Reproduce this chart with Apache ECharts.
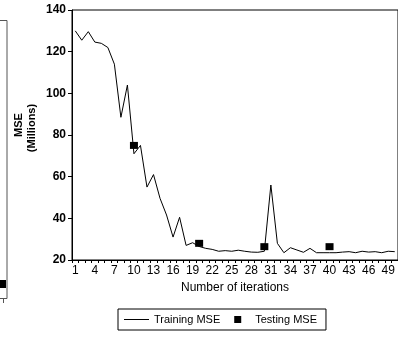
<!DOCTYPE html>
<html>
<head>
<meta charset="utf-8">
<script src="https://cdn.jsdelivr.net/npm/echarts@6/dist/echarts.min.js"></script>
<style>html,body{margin:0;padding:0;background:#fff}#c{width:398px;height:337px}</style>
</head>
<body>
<div id="c"></div>
<script>
var iterations = [];
for (var i = 1; i <= 50; i++) iterations.push(String(i));
var trainingMSE = [130, 125.5, 129.6, 124.6, 124, 122, 114, 88.5, 104, 71,
  75, 55, 61, 49.6, 41.6, 31, 40.5, 27, 28.3, 26.5,
  25.6, 25.1, 24.2, 24.5, 24.2, 24.7, 24.2, 23.8, 23.7, 24.2,
  56, 28, 23.5, 25.9, 24.8, 23.7, 25.6, 23.5, 23.5, 23.5,
  23.5, 23.8, 24, 23.5, 24.2, 23.8, 24, 23.5, 24.2, 24];
var testingIter = ['10', '20', '30', '40'];
var testingMSE = [75, 28, 26.4, 26.4];
var yTicks = [20, 140, 20]; // min, max, interval
var halfTicks = [];
for (var j = 0; j < 100; j++) halfTicks.push(String(j));

var chart = echarts.init(document.getElementById('c'), null, {renderer: 'canvas'});
var font = 'Liberation Sans, Arial, sans-serif';
chart.setOption({
  animation: false,
  grid: {left: 72, top: 10, right: -7, bottom: 77, show: true, borderColor: '#000', borderWidth: 1, containLabel: false},
  xAxis: [{
    type: 'category', data: iterations, boundaryGap: true,
    name: 'Number of iterations', nameLocation: 'middle', nameGap: 22,
    nameTextStyle: {color: '#000', fontSize: 12, fontFamily: font},
    axisLine: {lineStyle: {color: '#000', width: 1}},
    axisTick: {show: true, interval: 0, length: 3, lineStyle: {color: '#000'}},
    axisLabel: {interval: 2, color: '#000', fontSize: 12, fontFamily: font, margin: 5},
    splitLine: {show: false}
  }, {
    type: 'category', data: halfTicks, boundaryGap: true, position: 'bottom',
    axisLine: {show: false},
    axisTick: {show: true, interval: 1, length: 3, lineStyle: {color: '#000'}},
    axisLabel: {show: false},
    splitLine: {show: false}
  }],
  yAxis: {
    type: 'value', min: yTicks[0], max: yTicks[1], interval: yTicks[2],
    axisLine: {show: true, lineStyle: {color: '#000', width: 1}},
    axisTick: {show: true, length: 4, lineStyle: {color: '#000'}},
    axisLabel: {color: '#000', fontSize: 12, fontWeight: 'bold', fontFamily: font, margin: 6},
    splitLine: {show: false}
  },
  legend: {
    left: 118, top: 309,
    data: [
      {name: 'Training MSE', icon: 'path://M0,0L25,0L25,1L0,1Z', symbolKeepAspect: true},
      {name: 'Testing MSE', icon: 'path://M0,0L10,0L10,10L0,10Z', symbolKeepAspect: true,
        itemStyle: {color: '#000', opacity: 1}}
    ],
    symbolKeepAspect: true,
    borderColor: '#000', borderWidth: 1, borderRadius: 0,
    padding: [5, 9, 5, 6], itemGap: 14, itemWidth: 25, itemHeight: 7,
    textStyle: {color: '#000', fontSize: 11, fontFamily: font}
  },
  series: [{
    name: 'Training MSE', type: 'line', data: trainingMSE,
    symbol: 'none', lineStyle: {color: '#000', width: 1}, itemStyle: {color: '#000'}, z: 2
  }, {
    name: 'Testing MSE', type: 'scatter',
    data: testingIter.map(function (c, k) { return [c, testingMSE[k]]; }),
    symbol: 'rect', symbolSize: [8, 7], symbolKeepAspect: true,
    itemStyle: {color: '#000', opacity: 1}, z: 3
  }],
  graphic: [
    {type: 'text', rotation: Math.PI / 2, x: 19, y: 125,
      style: {text: 'MSE', fill: '#000', font: 'bold 11px ' + font, align: 'center', verticalAlign: 'middle'}},
    {type: 'text', rotation: Math.PI / 2, x: 32, y: 128,
      style: {text: '(Millions)', fill: '#000', font: 'bold 11px ' + font, align: 'center', verticalAlign: 'middle'}},
    {type: 'rect', shape: {x: -10, y: 20.5, width: 17, height: 278}, style: {fill: 'none', stroke: '#555', lineWidth: 1}},
    {type: 'rect', shape: {x: -4, y: 280, width: 10, height: 8}, style: {fill: '#000'}},
    {type: 'line', shape: {x1: 3.5, y1: 298, x2: 3.5, y2: 303}, style: {stroke: '#555', lineWidth: 1}}
  ]
});
</script>
</body>
</html>
